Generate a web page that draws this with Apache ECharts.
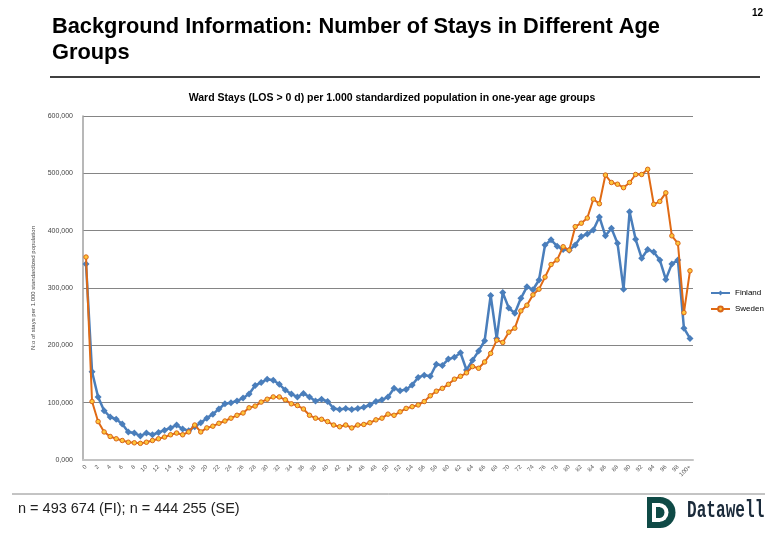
<!DOCTYPE html>
<html>
<head>
<meta charset="utf-8">
<script src="https://cdn.jsdelivr.net/npm/echarts@6/dist/echarts.min.js"></script>
<style>html,body{margin:0;padding:0;background:#fff}#c{width:780px;height:540px}</style>
</head>
<body>
<div id="c"></div>
<script>
var ages = [];
for (var a = 0; a < 100; a++) ages.push(String(a));
ages.push('100+');

var finland = [342,154,110,86,75,71,63,49,47,42,47,44,48,52,56,61,54,51,58,65,
73,80,89,98,100,103,108,115,130,135,141,139,132,122,115,110,116,110,103,106,
102,90,88,90,88,90,92,96,102,105,110,125,121,123,131,144,148,146,167,165,
176,179,187,157,174,190,208,287,212,292,265,256,282,302,297,314,375,384,373,367,
366,375,390,394,401,424,391,404,378,298,433,385,352,367,363,349,315,342,349,230,212];

var sweden = [354,102,67,49,41,37,34,31,30,29,31,34,37,40,44,47,44,49,61,49,
56,59,64,68,73,78,82,91,94,101,106,110,110,105,98,95,89,78,73,71,
67,61,58,61,56,61,62,65,70,73,80,78,84,90,93,96,102,112,120,125,
132,141,146,152,163,160,171,186,209,205,223,230,260,270,288,298,319,341,349,372,
366,407,413,422,455,447,497,484,481,475,484,498,498,507,446,451,466,391,378,257,330];

var yTicks = [0,100,200,300,400,500,600];

var H = Math.PI / 2;
var chart = echarts.init(document.getElementById('c'));
chart.setOption({
  backgroundColor: '#fff',
  animation: false,
  title: [
    {text: 'Background Information: Number of Stays in Different Age\nGroups', left: 47, top: 9,
     textStyle: {fontFamily: 'Liberation Sans', fontSize: 21.8, fontWeight: 'bold', color: '#000', lineHeight: 26}},
    {text: '12', left: 747, top: 3, textStyle: {fontFamily: 'Liberation Sans', fontSize: 10, fontWeight: 'bold', color: '#000'}},
    {text: 'Ward Stays (LOS > 0 d) per 1.000 standardized population in one-year age groups', left: 387, top: 88, textAlign: 'center',
     textStyle: {fontFamily: 'Liberation Sans', fontSize: 10.5, fontWeight: 'bold', color: '#000'}}
  ],
  legend: {
    orient: 'vertical', left: 705, top: 284, itemGap: 8, itemWidth: 19, itemHeight: 6,
    textStyle: {fontFamily: 'Liberation Sans', fontSize: 8, color: '#000'},
    data: ['Finland', 'Sweden']
  },
  grid: {left: 83, right: 87, top: 116, bottom: 80},
  xAxis: {
    type: 'category', data: ages, boundaryGap: true,
    axisLine: {lineStyle: {color: '#c4c4c4', width: 2}},
    axisTick: {show: false},
    axisLabel: {interval: 1, rotate: 45, fontSize: 6, color: '#555', fontFamily: 'Liberation Sans', margin: 6}
  },
  yAxis: {
    type: 'value', min: 0, max: 600, interval: 100,
    name: 'N:o of stays per 1.000 standardized population', nameLocation: 'middle', nameGap: 41,
    nameTextStyle: {fontSize: 6, color: '#444', fontFamily: 'Liberation Sans'},
    axisLine: {show: true, lineStyle: {color: '#a0a0a0', width: 1.5}},
    axisTick: {show: false},
    splitLine: {lineStyle: {color: '#858585', width: 1}},
    axisLabel: {fontSize: 7, color: '#444', fontFamily: 'Liberation Sans', margin: 10,
      formatter: function (v) { return yTicks.indexOf(v) >= 0 ? v + ',000' : ''; }}
  },
  series: [
    {name: 'Finland', type: 'line', data: finland, symbol: 'diamond', symbolSize: 7, showAllSymbol: true,
     lineStyle: {color: '#4a7ebb', width: 2.5}, itemStyle: {color: '#4a7ebb'}, z: 2},
    {name: 'Sweden', type: 'line', data: sweden, symbol: 'circle', symbolSize: 4.5, showAllSymbol: true,
     lineStyle: {color: '#e06a14', width: 2}, itemStyle: {color: '#ffc63a', borderColor: '#d9661a', borderWidth: 1}, z: 3}
  ],
  graphic: [
    {type: 'line', shape: {x1: 50, y1: 77, x2: 760, y2: 77}, style: {stroke: '#000', lineWidth: 1.5}},
    {type: 'line', shape: {x1: 12, y1: 494, x2: 765, y2: 494}, style: {stroke: '#888', lineWidth: 1}},
    {type: 'text', x: 18, y: 501, style: {text: 'n = 493 674 (FI); n = 444 255 (SE)', font: '14.5px "Liberation Sans"', fill: '#222'}},
    {type: 'rect', shape: {x: 647, y: 497, width: 14, height: 31}, style: {fill: '#0f4a46'}},
    {type: 'sector', shape: {cx: 660, cy: 512.5, r: 15.5, r0: 0, startAngle: -H, endAngle: H}, style: {fill: '#0f4a46'}},
    {type: 'rect', shape: {x: 652, y: 503, width: 8, height: 19}, style: {fill: '#fff'}},
    {type: 'sector', shape: {cx: 659, cy: 512.5, r: 9.5, r0: 0, startAngle: -H, endAngle: H}, style: {fill: '#fff'}},
    {type: 'rect', shape: {x: 656, y: 507, width: 4, height: 11}, style: {fill: '#0f4a46'}},
    {type: 'sector', shape: {cx: 659, cy: 512.5, r: 5.5, r0: 0, startAngle: -H, endAngle: H}, style: {fill: '#0f4a46'}},
    {type: 'text', x: 687, y: 500, scaleX: 0.7, style: {text: 'Datawell', font: 'bold 23px "Liberation Mono"', fill: '#1b2b3b'}}
  ]
});
</script>
</body>
</html>
